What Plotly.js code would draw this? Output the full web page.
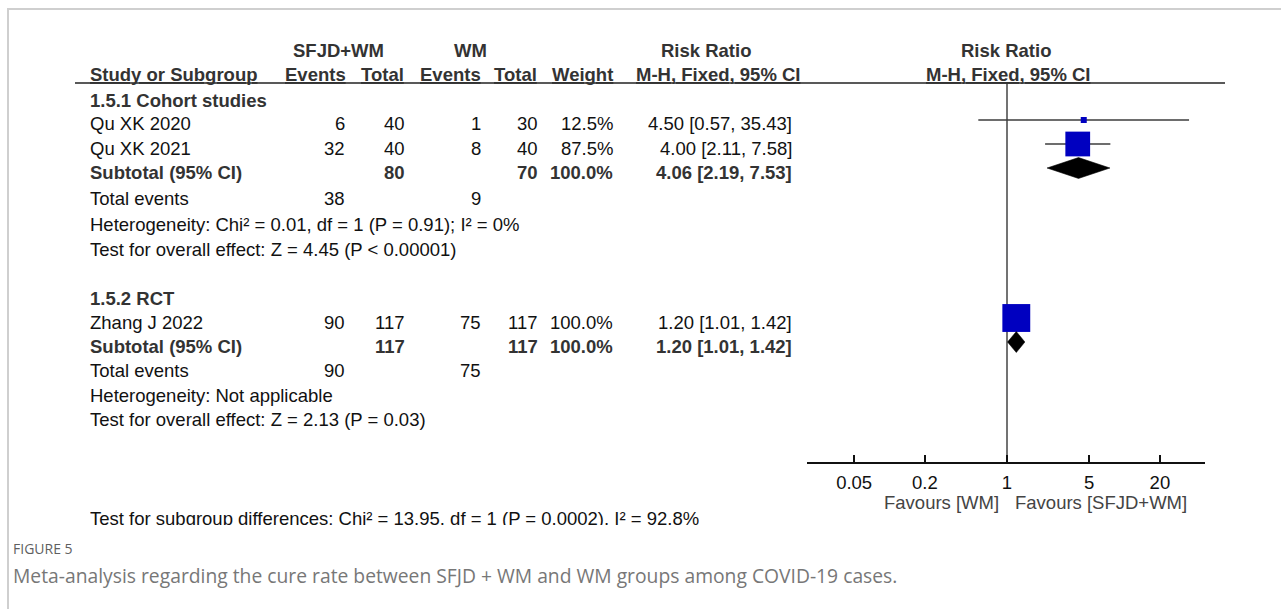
<!DOCTYPE html>
<html>
<head>
<meta charset="utf-8">
<script src="https://cdn.plot.ly/plotly-3.0.1.min.js"></script>
<style>
  html, body { margin: 0; padding: 0; background: #fff; }
  #chart { width: 1281px; height: 609px; }
</style>
</head>
<body>
<div id="chart"></div>
<script>
// ---- Study-level data ----
const studies = ['Qu XK 2020', 'Qu XK 2021', 'Zhang J 2022'];
const studyGroup = [0, 0, 1];
const expEvents = [6, 32, 90];
const expTotal = [40, 40, 117];
const ctlEvents = [1, 8, 75];
const ctlTotal = [30, 40, 117];
const weights = [12.5, 87.5, 100.0];
const rr = [4.50, 4.00, 1.20];
const rrLow = [0.57, 2.11, 1.01];
const rrHigh = [35.43, 7.58, 1.42];

// ---- Subgroup-level data ----
const groups = ['1.5.1 Cohort studies', '1.5.2 RCT'];
const groupExpEvents = [38, 90];
const groupCtlEvents = [9, 75];
const groupExpTotal = [80, 117];
const groupCtlTotal = [70, 117];
const groupWeight = [100.0, 100.0];
const groupRR = [4.06, 1.20];
const groupLow = [2.19, 1.01];
const groupHigh = [7.53, 1.42];
const heterogeneity = [
  'Heterogeneity: Chi² = 0.01, df = 1 (P = 0.91); I² = 0%',
  'Heterogeneity: Not applicable'
];
const overallEffect = [
  'Test for overall effect: Z = 4.45 (P < 0.00001)',
  'Test for overall effect: Z = 2.13 (P = 0.03)'
];
const subgroupTest = 'Test for subgroup differences: Chi² = 13.95, df = 1 (P = 0.0002), I² = 92.8%';

// ---- Axis and caption text ----
const tickVals = [0.05, 0.2, 1, 5, 20];
const tickLabels = ['0.05', '0.2', '1', '5', '20'];
const favourLeft = 'Favours [WM]';
const favourRight = 'Favours [SFJD+WM]';
const figureLabel = 'FIGURE 5';
const caption = 'Meta-analysis regarding the cure rate between SFJD + WM and WM groups among COVID-19 cases.';

// ---- Page geometry (pixels from top-left) ----
const W = 1281, H = 609;
const FONT = 'Liberation Sans, Arial, sans-serif';
const CAPFONT = 'Open Sans, Noto Sans, sans-serif';
const FS = 18.5;
const axisY = 462;             // bottom of forest panel
const ruleY = 83;              // header rule
const plotLeft = 807, plotRight = 1205;
const onePx = 1007, decadePx = 117.5;

// text rows
const groupHeadY = [100, 298];
const studyY = [124, 148, 322];
const subtotalY = [172, 346];
const totalEventsY = [199, 370];
const hetY = [224, 395];
const effectY = [249, 419];
const markLift = 4;            // marks sit slightly above the text centre line

// column anchors
const colName = 88, colExpEv = 347, colExpTot = 407, colCtlEv = 483,
      colCtlTot = 540, colWeight = 615, colRR = 794;

const px = x => x / W;
const py = y => 1 - y / H;

const annotations = [];
function label(text, x, y, anchor, opt) {
  opt = opt || {};
  annotations.push({
    text: opt.bold ? '<b>' + text + '</b>' : text,
    x: px(x), y: py(y), xref: 'paper', yref: 'paper',
    xanchor: anchor, yanchor: 'middle', showarrow: false,
    font: { family: opt.family || FONT, size: opt.size || FS, color: opt.color || '#111' }
  });
}
const fmt1 = v => v.toFixed(1) + '%';
const fmtRR = (m, l, h) => m.toFixed(2) + ' [' + l.toFixed(2) + ', ' + h.toFixed(2) + ']';

// ---- Header ----
const HEAD = '#333';
label('SFJD+WM', 338, 50, 'center', { bold: true, color: HEAD });
label('WM', 470, 50, 'center', { bold: true, color: HEAD });
label('Risk Ratio', 706, 50, 'center', { bold: true, color: HEAD });
label('Risk Ratio', 1006, 50, 'center', { bold: true, color: HEAD });
label('<u>Study or Subgroup</u>', colName, 75, 'left', { bold: true, color: HEAD });
label('<u>Events</u>', colExpEv + 1, 75, 'right', { bold: true, color: HEAD });
label('<u>Total</u>', colExpTot - 1, 75, 'right', { bold: true, color: HEAD });
label('<u>Events</u>', colCtlEv, 75, 'right', { bold: true, color: HEAD });
label('<u>Total</u>', colCtlTot - 1, 75, 'right', { bold: true, color: HEAD });
label('<u>Weight</u>', colWeight, 75, 'right', { bold: true, color: HEAD });
label('<u>M-H, Fixed, 95% CI</u>', 718, 75, 'center', { bold: true, color: HEAD });
label('<u>M-H, Fixed, 95% CI</u>', 1008, 75, 'center', { bold: true, color: HEAD });

// ---- Body rows ----
groups.forEach((g, gi) => {
  label(g, colName, groupHeadY[gi], 'left', { bold: true, color: HEAD });
  studies.forEach((s, i) => {
    if (studyGroup[i] !== gi) return;
    const y = studyY[i];
    label(s, colName, y, 'left');
    label(String(expEvents[i]), colExpEv, y, 'right');
    label(String(expTotal[i]), colExpTot, y, 'right');
    label(String(ctlEvents[i]), colCtlEv, y, 'right');
    label(String(ctlTotal[i]), colCtlTot, y, 'right');
    label(fmt1(weights[i]), colWeight, y, 'right');
    label(fmtRR(rr[i], rrLow[i], rrHigh[i]), colRR, y, 'right');
  });
  const ys = subtotalY[gi];
  label('Subtotal (95% CI)', colName, ys, 'left', { bold: true, color: HEAD });
  label(String(groupExpTotal[gi]), colExpTot, ys, 'right', { bold: true, color: HEAD });
  label(String(groupCtlTotal[gi]), colCtlTot, ys, 'right', { bold: true, color: HEAD });
  label(fmt1(groupWeight[gi]), colWeight, ys, 'right', { bold: true, color: HEAD });
  label(fmtRR(groupRR[gi], groupLow[gi], groupHigh[gi]), colRR, ys, 'right', { bold: true, color: HEAD });
  label('Total events', colName, totalEventsY[gi], 'left');
  label(String(groupExpEvents[gi]), colExpEv, totalEventsY[gi], 'right');
  label(String(groupCtlEvents[gi]), colCtlEv, totalEventsY[gi], 'right');
  label(heterogeneity[gi], colName, hetY[gi], 'left');
  label(overallEffect[gi], colName, effectY[gi], 'left');
});

// ---- Favours labels under the axis ----
label(favourLeft, 1001, 502, 'right', { color: '#444' });
label(favourRight, 1013, 502, 'left', { color: '#444' });

// ---- Subgroup difference line (bottom edge of the panel cuts it) ----
annotations.push({
  text: subgroupTest, x: px(colName), y: py(506), xref: 'paper', yref: 'paper',
  xanchor: 'left', yanchor: 'top', valign: 'top', height: 17, showarrow: false,
  font: { family: FONT, size: FS, color: '#111' }
});

// ---- Caption ----
label(figureLabel, 11, 548, 'left', { family: CAPFONT, size: 14, color: '#5f5f5f' });
label(caption, 11, 575, 'left', { family: CAPFONT, size: 19.3, color: '#777' });

// ---- Forest plot traces ----
const traces = [];
const ciX = [], ciY = [];
studies.forEach((s, i) => {
  ciX.push(rrLow[i], rrHigh[i], null);
  const y = studyY[i] - markLift;
  ciY.push(y, y, null);
});
traces.push({
  type: 'scatter', mode: 'lines', x: ciX, y: ciY,
  line: { color: '#3c3c3c', width: 1.5 }, hoverinfo: 'skip', showlegend: false, cliponaxis: false
});
traces.push({
  type: 'scatter', mode: 'markers', x: rr, y: studyY.map(v => v - markLift),
  marker: {
    symbol: 'square', color: '#0000c0', opacity: 1,
    size: weights.map(w => 6 + (w - 12.5) * 0.25), line: { width: 0 }
  },
  hoverinfo: 'skip', showlegend: false, cliponaxis: false
});
const halfH = 10.5;
groups.forEach((g, gi) => {
  const y = subtotalY[gi] - markLift;
  traces.push({
    type: 'scatter', mode: 'lines', fill: 'toself', fillcolor: '#000',
    x: [groupLow[gi], groupRR[gi], groupHigh[gi], groupRR[gi], groupLow[gi]],
    y: [y, y - halfH, y, y + halfH, y],
    line: { color: '#000', width: 0.5 }, hoverinfo: 'skip', showlegend: false, cliponaxis: false
  });
});

const logLeft = (plotLeft - onePx) / decadePx;
const logRight = (plotRight - onePx) / decadePx;

const layout = {
  width: W, height: H, autosize: false,
  margin: { l: 0, r: 0, t: 0, b: 0, pad: 0 },
  paper_bgcolor: '#fff', plot_bgcolor: 'rgba(0,0,0,0)',
  showlegend: false,
  xaxis: {
    type: 'log', domain: [px(plotLeft), px(plotRight)], range: [logLeft, logRight],
    showgrid: false, zeroline: false, showline: true, linecolor: '#111', linewidth: 1.5,
    ticks: 'inside', ticklen: 7, tickwidth: 1.5, tickcolor: '#111',
    tickvals: tickVals, ticktext: tickLabels, ticklabelstandoff: 3,
    tickfont: { family: FONT, size: FS, color: '#111' }, fixedrange: true
  },
  yaxis: {
    domain: [1 - axisY / H, 1], range: [axisY, 0], visible: false, fixedrange: true
  },
  shapes: [
    // outer frame
    { type: 'line', xref: 'paper', yref: 'paper', x0: px(7), x1: 1, y0: py(9), y1: py(9), line: { color: '#cfcfcf', width: 2 } },
    { type: 'line', xref: 'paper', yref: 'paper', x0: px(8), x1: px(8), y0: py(9), y1: 0, line: { color: '#cfcfcf', width: 2 } },
    // header rule
    { type: 'line', xref: 'paper', yref: 'paper', x0: px(75), x1: px(1225), y0: py(ruleY), y1: py(ruleY), line: { color: '#222', width: 1.5 } },
    // line of no effect
    { type: 'line', xref: 'x', yref: 'y', x0: 1, x1: 1, y0: ruleY, y1: axisY, line: { color: '#444', width: 1.5 }, layer: 'below' }
  ],
  annotations: annotations
};

Plotly.newPlot('chart', traces, layout, { displayModeBar: false, staticPlot: true });
</script>
</body>
</html>
